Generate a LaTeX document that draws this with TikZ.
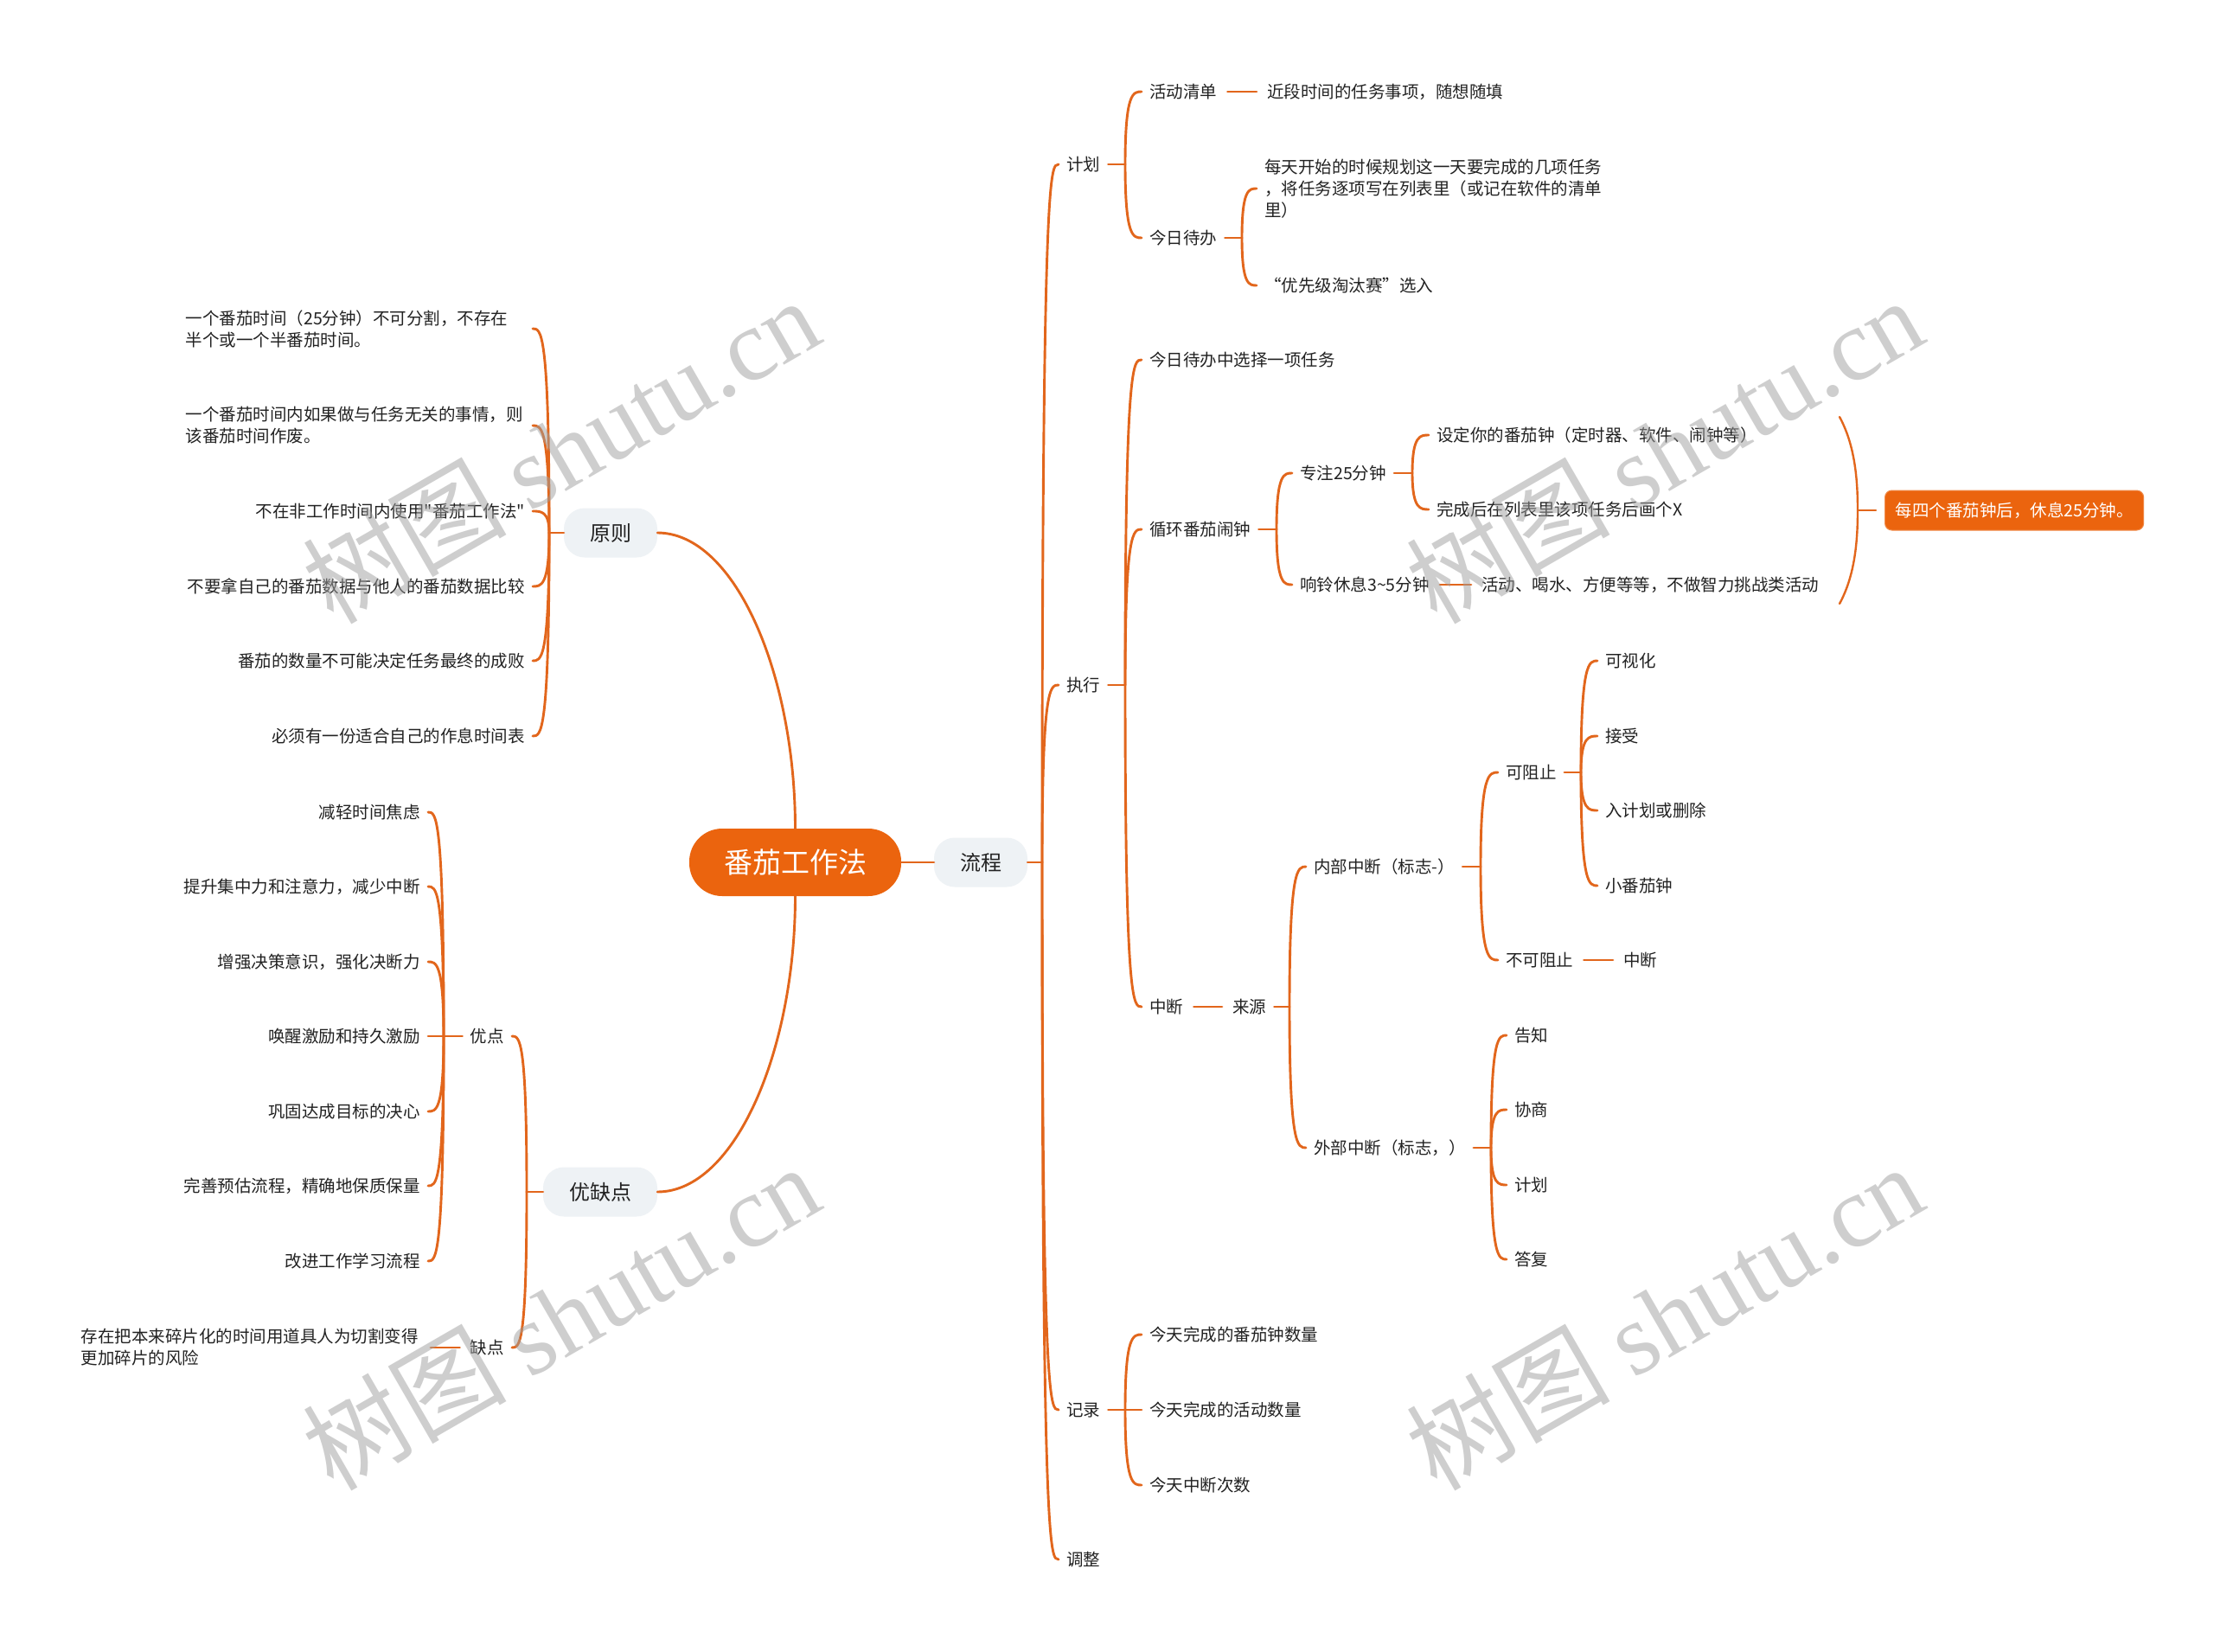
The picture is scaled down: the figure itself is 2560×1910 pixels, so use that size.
\documentclass[tikz,border=0pt]{standalone}
\usepackage{fontspec}
\setmainfont{Noto Sans CJK SC}
\newfontfamily\wmlatin{Liberation Serif}
\usetikzlibrary{calc}
\definecolor{brc}{HTML}{E2661C}
\definecolor{mainc}{HTML}{EB640E}
\definecolor{lvfill}{HTML}{EEF2F5}
\definecolor{txt}{HTML}{222222}
\definecolor{wmc}{HTML}{9E9E9E}
\newcommand\straightq{\XeTeXglyph\XeTeXcharglyph34\relax}
\tikzset{
  ln/.style={draw=brc, line width=2.9pt, line cap=round},
  stl/.style={ln, shorten <=3pt, shorten >=3pt},
  leaf/.style={font=\fontsize{19.5}{25}\selectfont, text=txt, inner xsep=9pt, inner ysep=2pt},
  leafR/.style={leaf, anchor=west},
  leafL/.style={leaf, anchor=east},
  lvone/.style={fill=lvfill, rounded corners=24pt, font=\fontsize{24}{28}\selectfont, text=txt, inner xsep=30pt, minimum height=57pt},
  rootnode/.style={fill=mainc, rounded corners=38pt, font=\fontsize{33}{38}\selectfont, text=white, inner xsep=40pt, minimum height=78pt},
  sumnode/.style={fill=mainc, draw=mainc!75!white, line width=1pt, rounded corners=8pt, text=white, font=\fontsize{19.5}{25}\selectfont, inner xsep=12pt, minimum height=46pt, anchor=west},
  wm/.style={text=wmc, opacity=0.5, font=\fontsize{118}{130}\selectfont, rotate=30}
}
\newcommand\conR[2]{\draw[ln] (#1) .. controls (#1 |- #2.west) and ($(#1 |- #2.west)!0.5!(#2.west)$) .. (#2.west);}
\newcommand\conL[2]{\draw[ln] (#1) .. controls (#1 |- #2.east) and ($(#1 |- #2.east)!0.5!(#2.east)$) .. (#2.east);}
\begin{document}
\begin{tikzpicture}[x=1pt,y=-1pt]
\fill[white] (0,0) rectangle (2560,1910);
\useasboundingbox (0,0) rectangle (2560,1910);

% ---- root and level one
\node[rootnode] (root) at (919.5,997) {番茄工作法};
\node[lvone] (lc) at (1134,997) {流程};
\node[lvone] (yz) at (706,616) {原则};
\node[lvone] (yq) at (694,1378) {优缺点};
\draw[ln] (root.east) -- (lc.west);
\draw[ln] (root.north) .. controls (919.5,780) and (850,616) .. (yz.east);
\draw[ln] (root.south) .. controls (919.5,1214) and (850,1378) .. (yq.east);

% ---- 流程
\coordinate (slc) at (1205,997);
\draw[ln] (lc.east) -- (slc);
\node[leafR] (jh) at (1224,190) {计划};
\node[leafR] (zx) at (1224,792) {执行};
\node[leafR] (jl) at (1224,1630) {记录};
\node[leafR] (tz) at (1224,1803) {调整};
\conR{slc}{jh}\conR{slc}{zx}\conR{slc}{jl}\conR{slc}{tz}

% 计划
\coordinate (sjh) at (1301,190);
\draw[ln] (jh.east) -- (sjh);
\node[leafR] (hdqd) at (1320,106) {活动清单};
\node[leafR] (jdsj) at (1456,106) {近段时间的任务事项，随想随填};
\draw[stl] (hdqd.east) -- (jdsj.west);
\node[leafR] (jrdb) at (1320,275) {今日待办};
\conR{sjh}{hdqd}\conR{sjh}{jrdb}
\coordinate (sjrdb) at (1436,275);
\draw[ln] (jrdb.east) -- (sjrdb);
\node[leafR, align=left] (mtks) at (1453,218) {每天开始的时候规划这一天要完成的几项任务\\，将任务逐项写在列表里（或记在软件的清单\\里）};
\node[leafR] (yxj) at (1453,330) {“优先级淘汰赛”选入};
\conR{sjrdb}{mtks}\conR{sjrdb}{yxj}

% 执行
\coordinate (szx) at (1301,792);
\draw[ln] (zx.east) -- (szx);
\node[leafR] (xzrw) at (1320,416) {今日待办中选择一项任务};
\node[leafR] (xhnz) at (1320,612) {循环番茄闹钟};
\node[leafR] (zd) at (1320,1164) {中断};
\conR{szx}{xzrw}\conR{szx}{xhnz}\conR{szx}{zd}

\coordinate (sxh) at (1476,612);
\draw[ln] (xhnz.east) -- (sxh);
\node[leafR] (zz) at (1494,547) {专注25分钟};
\node[leafR] (xlxx) at (1494,676) {响铃休息3\textasciitilde5分钟};
\conR{sxh}{zz}\conR{sxh}{xlxx}
\coordinate (szz) at (1633,547);
\draw[ln] (zz.east) -- (szz);
\node[leafR] (sdnz) at (1652,503) {设定你的番茄钟（定时器、软件、闹钟等）};
\node[leafR] (wchh) at (1652,589) {完成后在列表里该项任务后画个X};
\conR{szz}{sdnz}\conR{szz}{wchh}
\node[leafR] (hdhs) at (1704,676) {活动、喝水、方便等等，不做智力挑战类活动};
\draw[stl] (xlxx.east) -- (hdhs.west);

% summary
\node[sumnode] (sum) at (2179,590) {每四个番茄钟后，休息25分钟。};
\coordinate (bt) at (2127,482);
\coordinate (bm) at (2148,590);
\coordinate (bb) at (2127,698);
\draw[ln, line width=2.4pt] (bt) .. controls (2145,515) and (2148,555) .. (bm) .. controls (2148,625) and (2145,665) .. (bb);
\draw[ln, line width=2.4pt, shorten >=10pt] (bm) -- (sum.west);

% 中断
\node[leafR] (ly) at (1416,1164) {来源};
\draw[stl] (zd.east) -- (ly.west);
\coordinate (sly) at (1491,1164);
\draw[ln] (ly.east) -- (sly);
\node[leafR] (nbzd) at (1510,1002) {内部中断（标志-）};
\node[leafR] (wbzd) at (1510,1327) {外部中断（标志，）};
\conR{sly}{nbzd}\conR{sly}{wbzd}

\coordinate (snb) at (1712,1002);
\draw[ln] (nbzd.east) -- (snb);
\node[leafR] (kzz) at (1732,893) {可阻止};
\node[leafR] (bkzz) at (1732,1110) {不可阻止};
\conR{snb}{kzz}\conR{snb}{bkzz}
\coordinate (skzz) at (1828,893);
\draw[ln] (kzz.east) -- (skzz);
\node[leafR] (ksh) at (1847,764) {可视化};
\node[leafR] (js) at (1847,851) {接受};
\node[leafR] (rjh) at (1847,937) {入计划或删除};
\node[leafR] (xfq) at (1847,1024) {小番茄钟};
\conR{skzz}{ksh}\conR{skzz}{js}\conR{skzz}{rjh}\conR{skzz}{xfq}
\node[leafR] (zdb) at (1868,1110) {中断};
\draw[stl] (bkzz.east) -- (zdb.west);

\coordinate (swb) at (1724,1327);
\draw[ln] (wbzd.east) -- (swb);
\node[leafR] (gz) at (1742,1197) {告知};
\node[leafR] (xs) at (1742,1283) {协商};
\node[leafR] (jh2) at (1742,1370) {计划};
\node[leafR] (df) at (1742,1456) {答复};
\conR{swb}{gz}\conR{swb}{xs}\conR{swb}{jh2}\conR{swb}{df}

% 记录
\coordinate (sjl) at (1301,1630);
\draw[ln] (jl.east) -- (sjl);
\node[leafR] (jl1) at (1320,1543) {今天完成的番茄钟数量};
\node[leafR] (jl2) at (1320,1630) {今天完成的活动数量};
\node[leafR] (jl3) at (1320,1717) {今天中断次数};
\conR{sjl}{jl1}\conR{sjl}{jl2}\conR{sjl}{jl3}

% ---- 原则
\coordinate (syz) at (635,616);
\draw[ln] (yz.west) -- (syz);
\node[leafL, text width=392pt, align=left] (yz1) at (616,380) {一个番茄时间（25分钟）不可分割，不存在\\半个或一个半番茄时间。};
\node[leafL, text width=392pt, align=left] (yz2) at (616,492) {一个番茄时间内如果做与任务无关的事情，则\\该番茄时间作废。};
\node[leafL] (yz3) at (616,591) {不在非工作时间内使用\straightq 番茄工作法\straightq};
\node[leafL] (yz4) at (616,678) {不要拿自己的番茄数据与他人的番茄数据比较};
\node[leafL] (yz5) at (616,764) {番茄的数量不可能决定任务最终的成败};
\node[leafL] (yz6) at (616,851) {必须有一份适合自己的作息时间表};
\conL{syz}{yz1}\conL{syz}{yz2}\conL{syz}{yz3}\conL{syz}{yz4}\conL{syz}{yz5}\conL{syz}{yz6}

% ---- 优缺点
\coordinate (syq) at (609,1378);
\draw[ln] (yq.west) -- (syq);
\node[leafL] (yd) at (592,1198) {优点};
\node[leafL] (qd) at (592,1558) {缺点};
\conL{syq}{yd}\conL{syq}{qd}
\coordinate (syd) at (513,1198);
\draw[ln] (yd.west) -- (syd);
\node[leafL] (yd1) at (495,939) {减轻时间焦虑};
\node[leafL] (yd2) at (495,1025) {提升集中力和注意力，减少中断};
\node[leafL] (yd3) at (495,1112) {增强决策意识，强化决断力};
\node[leafL] (yd4) at (495,1198) {唤醒激励和持久激励};
\node[leafL] (yd5) at (495,1285) {巩固达成目标的决心};
\node[leafL] (yd6) at (495,1371) {完善预估流程，精确地保质保量};
\node[leafL] (yd7) at (495,1458) {改进工作学习流程};
\conL{syd}{yd1}\conL{syd}{yd2}\conL{syd}{yd3}\conL{syd}{yd4}\conL{syd}{yd5}\conL{syd}{yd6}\conL{syd}{yd7}
\node[leafL, text width=392pt, align=left] (qd1) at (495,1558) {存在把本来碎片化的时间用道具人为切割变得\\更加碎片的风险};
\draw[stl] (qd.west) -- (qd1.east);

% ---- watermarks
\node[wm] (wm1) at (648,520) {树图 {\wmlatin shutu.cn}};
\node[wm] (wm2) at (1924,520) {树图 {\wmlatin shutu.cn}};
\node[wm] (wm3) at (648,1522) {树图 {\wmlatin shutu.cn}};
\node[wm] (wm4) at (1924,1522) {树图 {\wmlatin shutu.cn}};
\end{tikzpicture}
\end{document}
